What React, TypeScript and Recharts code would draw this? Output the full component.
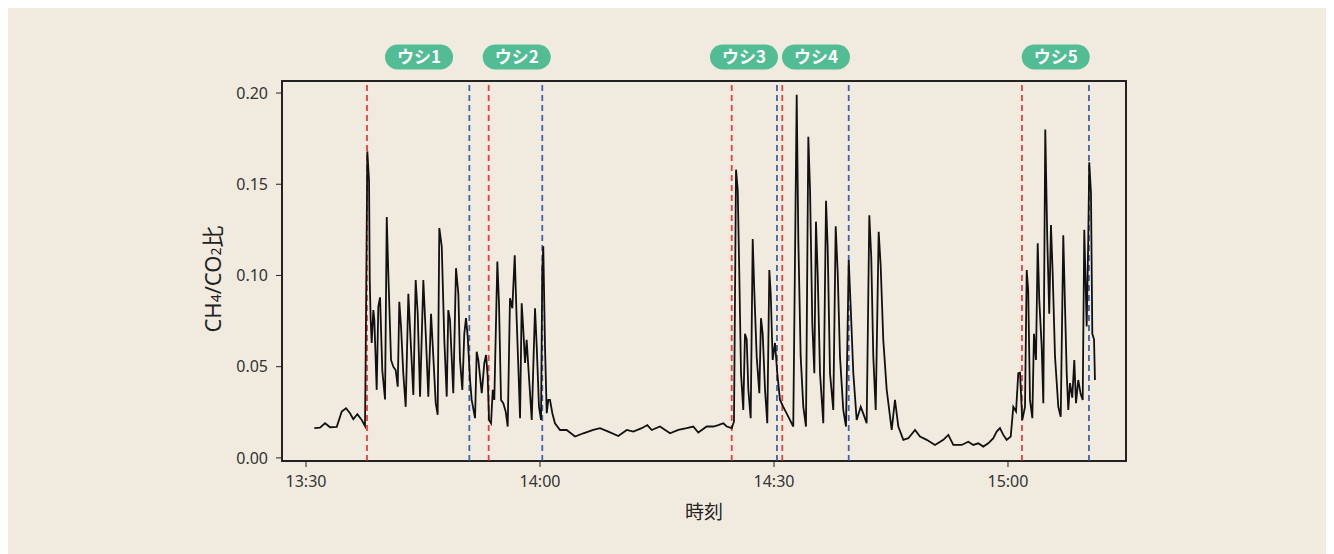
import { LineChart, Line, XAxis, YAxis, ReferenceLine, ReferenceDot, ReferenceArea } from "recharts";

// minutes after 13:00
const times = [
  31.06, 31.79, 32.44, 33.08, 33.94, 34.58, 35.13, 35.64, 36.06, 36.58, 37.14, 37.56, 37.65, 37.86, 38.08, 38.17,
  38.29, 38.42, 38.63, 38.76, 39.06, 39.27, 39.49, 39.78, 40.13, 40.35, 40.55, 40.9, 41.19, 41.5, 41.76, 41.96,
  42.18, 42.47, 42.78, 43.12, 43.37, 43.76, 44.06, 44.32, 44.62, 45.04, 45.35, 45.68, 46.03, 46.32, 46.63, 46.88,
  47.09, 47.4, 47.73, 48.04, 48.24, 48.46, 48.88, 49.23, 49.53, 49.74, 50.04, 50.29, 50.51, 50.73, 51.03, 51.24,
  51.67, 51.88, 52.09, 52.31, 52.53, 52.86, 53.08, 53.29, 53.46, 53.72, 53.94, 54.14, 54.53, 54.74, 55.0, 55.29,
  55.6, 55.86, 56.15, 56.45, 56.76, 57.01, 57.22, 57.44, 57.65, 57.86, 58.08, 58.29, 58.5, 58.94, 59.36, 59.58,
  59.87, 60.13, 60.29, 60.42, 60.64, 60.86, 61.06, 61.28, 61.58, 61.92, 62.56,
  63.42, 64.49, 65.55, 66.83, 67.69, 68.76, 70.04, 71.12, 71.96, 73.04, 73.76, 74.32, 75.38, 75.81, 76.67, 77.73,
  78.81, 79.65, 80.29, 81.37, 82.22, 82.86, 83.5, 83.94, 84.58,
  84.87, 85.13, 85.35, 85.55, 85.77, 86.06, 86.28, 86.5, 86.71, 87.01, 87.27, 87.47, 87.78, 88.12, 88.33, 88.55,
  88.85, 89.14, 89.4, 89.58, 89.83, 90.13, 90.42, 90.77, 91.19, 91.83, 92.47, 92.91, 93.12, 93.42, 93.76, 94.1,
  94.4, 94.62, 94.91, 95.17, 95.38, 95.6, 95.9, 96.32, 96.67, 96.88, 97.18, 97.6, 97.91, 98.17, 98.46, 98.88,
  99.23, 99.58, 99.83, 100.17, 100.6, 101.12, 101.47, 101.88, 102.22, 102.47, 102.73, 103.04, 103.42, 103.68,
  104.01, 104.45, 105.09, 105.51, 105.94, 106.58, 107.22, 108.08, 108.72, 109.58, 110.64, 111.71, 112.35, 112.99,
  114.06, 114.91, 115.55, 116.19, 116.83, 117.47, 118.12, 118.55, 118.97, 119.4, 119.83, 120.35, 120.68, 121.03,
  121.32, 121.54, 121.83, 122.18, 122.4, 122.59, 122.82, 123.12, 123.33, 123.59, 123.81, 124.01, 124.32, 124.53,
  124.78, 125.04, 125.29, 125.51, 125.73, 126.03, 126.45, 126.76, 127.09, 127.31, 127.53, 127.73, 127.95, 128.24,
  128.5, 128.72, 129.01, 129.32, 129.58, 129.78, 130.09, 130.29, 130.42, 130.64, 130.81, 131.03, 131.15,
];

const ratio = [
  0.0163, 0.0166, 0.019, 0.0168, 0.017, 0.0254, 0.0272, 0.0245, 0.0212, 0.024, 0.0208, 0.0175, 0.0555, 0.168, 0.152, 0.0975,
  0.0756, 0.063, 0.081, 0.0756, 0.0373, 0.083, 0.088, 0.048, 0.032, 0.132, 0.101, 0.0537, 0.05, 0.048, 0.039, 0.0856,
  0.072, 0.0464, 0.028, 0.09, 0.068, 0.0345, 0.0975, 0.079, 0.0336, 0.0975, 0.068, 0.0336, 0.079, 0.0555, 0.03, 0.0236,
  0.126, 0.116, 0.0647, 0.0336, 0.081, 0.0756, 0.0355, 0.104, 0.09, 0.0537, 0.0373, 0.068, 0.0766, 0.0665, 0.0427, 0.0318,
  0.0218, 0.0582, 0.0537, 0.0446, 0.0355, 0.052, 0.0564, 0.045, 0.0208, 0.019, 0.0373, 0.0318, 0.1076, 0.0848, 0.0318, 0.03,
  0.0254, 0.0172, 0.0875, 0.082, 0.111, 0.0756, 0.05, 0.0218, 0.0848, 0.07, 0.052, 0.0647, 0.05, 0.0208, 0.082, 0.061,
  0.028, 0.0208, 0.103, 0.116, 0.061, 0.0245, 0.0318, 0.0318, 0.0245, 0.019, 0.0153,
  0.0153, 0.0117, 0.0135, 0.0153, 0.0163, 0.0144, 0.012, 0.0153, 0.0144, 0.0163, 0.018, 0.0153, 0.0172, 0.016, 0.0135, 0.0153,
  0.0163, 0.0172, 0.0139, 0.0172, 0.0172, 0.018, 0.019, 0.0172, 0.0163,
  0.02, 0.158, 0.147, 0.101, 0.0464, 0.0263, 0.068, 0.065, 0.0373, 0.0218, 0.12, 0.092, 0.0555, 0.0355, 0.0766, 0.068,
  0.0373, 0.019, 0.103, 0.09, 0.0537, 0.063, 0.0464, 0.0318, 0.028, 0.0226, 0.0172, 0.199, 0.1195, 0.0555, 0.028, 0.0172,
  0.176, 0.147, 0.0738, 0.0464, 0.1295, 0.101, 0.0464, 0.019, 0.141, 0.116, 0.0464, 0.0263, 0.127, 0.101, 0.0555, 0.0263,
  0.0172, 0.1085, 0.083, 0.0464, 0.0208, 0.028, 0.024, 0.019, 0.133, 0.11, 0.0555, 0.0263, 0.124, 0.105,
  0.0647, 0.0373, 0.0153, 0.0318, 0.0172, 0.0099, 0.0108, 0.0153, 0.0117, 0.0099, 0.0071, 0.0099, 0.0126, 0.0071,
  0.0071, 0.0089, 0.0071, 0.008, 0.0062, 0.008, 0.0108, 0.0144, 0.0163, 0.0126, 0.0099, 0.0117, 0.028, 0.0254,
  0.0464, 0.0467, 0.0208, 0.028, 0.103, 0.092, 0.0318, 0.0218, 0.068, 0.0537, 0.1176, 0.0866, 0.061, 0.03,
  0.18, 0.1195, 0.079, 0.1277, 0.101, 0.0555, 0.028, 0.0226, 0.122, 0.083, 0.0464, 0.0263, 0.041, 0.033,
  0.0537, 0.03, 0.0427, 0.035, 0.0318, 0.125, 0.072, 0.1195, 0.162, 0.145, 0.068, 0.065, 0.0427,
];

// cow entry (red) and exit (blue) times, minutes after 13:00
const cowStart = [37.82, 53.42, 84.58, 91.06, 121.79];
const cowEnd = [50.94, 60.29, 90.38, 99.58, 130.38];
const cowLabels = ["ウシ1", "ウシ2", "ウシ3", "ウシ4", "ウシ5"];
const labelPos = [44.49, 57.01, 86.15, 95.38, 126.12];

const xTicks = [30, 60, 90, 120];
const xTickLabels = ["13:30", "14:00", "14:30", "15:00"];
const yTicks = [0, 0.05, 0.1, 0.15, 0.2];

const X_DOMAIN: [number, number] = [26.92, 135.13];
const Y_DOMAIN: [number, number] = [-0.0017, 0.2066];

const data = times.map((m, i) => ({ m, v: ratio[i] }));

const FONT = "'Noto Sans CJK JP', 'Noto Sans', sans-serif";
const NUM_FONT = "'Noto Sans', 'Open Sans', sans-serif";

const Pill = ({ cx, cy, text }: { cx?: number; cy?: number; text: string }) => {
  if (cx == null || cy == null) return null;
  const w = 68;
  const h = 25;
  const y = cy - 24;
  return (
    <g>
      <rect x={cx - w / 2} y={y - h / 2} width={w} height={h} rx={12.5} ry={12.5} fill="#52bd94" />
      <text x={cx} y={y + 1} textAnchor="middle" dominantBaseline="middle" fill="#fff" fontSize={17} fontWeight={700} fontFamily={FONT}>
        {text}
      </text>
    </g>
  );
};

const YLabel = () => (
  <text transform="translate(213, 271) rotate(-90)" textAnchor="middle" fill="#222" fontSize={22} fontFamily={NUM_FONT}>
    CH<tspan fontSize={14}>4</tspan>/CO<tspan fontSize={14}>2</tspan>
    <tspan fontFamily={FONT}>比</tspan>
  </text>
);

export default function App() {
  return (
    <div style={{ width: 1326, height: 546, background: "#f1ebdf", position: "relative" }}>
      <LineChart width={1326} height={546} data={data} margin={{ top: 73, right: 208, left: 214, bottom: 63 }}>
        <XAxis
          type="number"
          dataKey="m"
          domain={X_DOMAIN}
          ticks={xTicks}
          tickFormatter={(t: number) => xTickLabels[xTicks.indexOf(t)] ?? ""}
          allowDataOverflow
          height={30}
          stroke="#222"
          tickSize={6}
          tickMargin={9}
          tick={{ fill: "#333", fontSize: 16, fontFamily: NUM_FONT }}
          label={{ value: "時刻", position: "insideBottom", offset: -28, fill: "#222", fontSize: 19, fontFamily: FONT }}
        />
        <YAxis
          type="number"
          domain={Y_DOMAIN}
          ticks={yTicks}
          tickFormatter={(v: number) => v.toFixed(2)}
          allowDataOverflow
          width={60}
          stroke="#222"
          tickSize={6}
          tickMargin={8}
          tick={{ fill: "#333", fontSize: 16, fontFamily: NUM_FONT }}
        />
        <ReferenceArea x1={X_DOMAIN[0]} x2={X_DOMAIN[1]} y1={Y_DOMAIN[0]} y2={Y_DOMAIN[1]} fill="none" stroke="#222" strokeWidth={2} ifOverflow="visible" />
        {cowStart.map((t, i) => (
          <ReferenceLine key={`s${i}`} x={t} stroke="#e8413b" strokeWidth={1.8} strokeDasharray="6 4" />
        ))}
        {cowEnd.map((t, i) => (
          <ReferenceLine key={`e${i}`} x={t} stroke="#3f63b0" strokeWidth={1.8} strokeDasharray="6 4" />
        ))}
        <Line type="linear" dataKey="v" stroke="#111" strokeWidth={1.8} dot={false} isAnimationActive={false} />
        {labelPos.map((t, i) => (
          <ReferenceDot
            key={`l${i}`}
            x={t}
            y={Y_DOMAIN[1]}
            ifOverflow="visible"
            shape={(p: any) => <Pill cx={p.cx} cy={p.cy} text={cowLabels[i]} />}
          />
        ))}
        <YLabel />
      </LineChart>
    </div>
  );
}
